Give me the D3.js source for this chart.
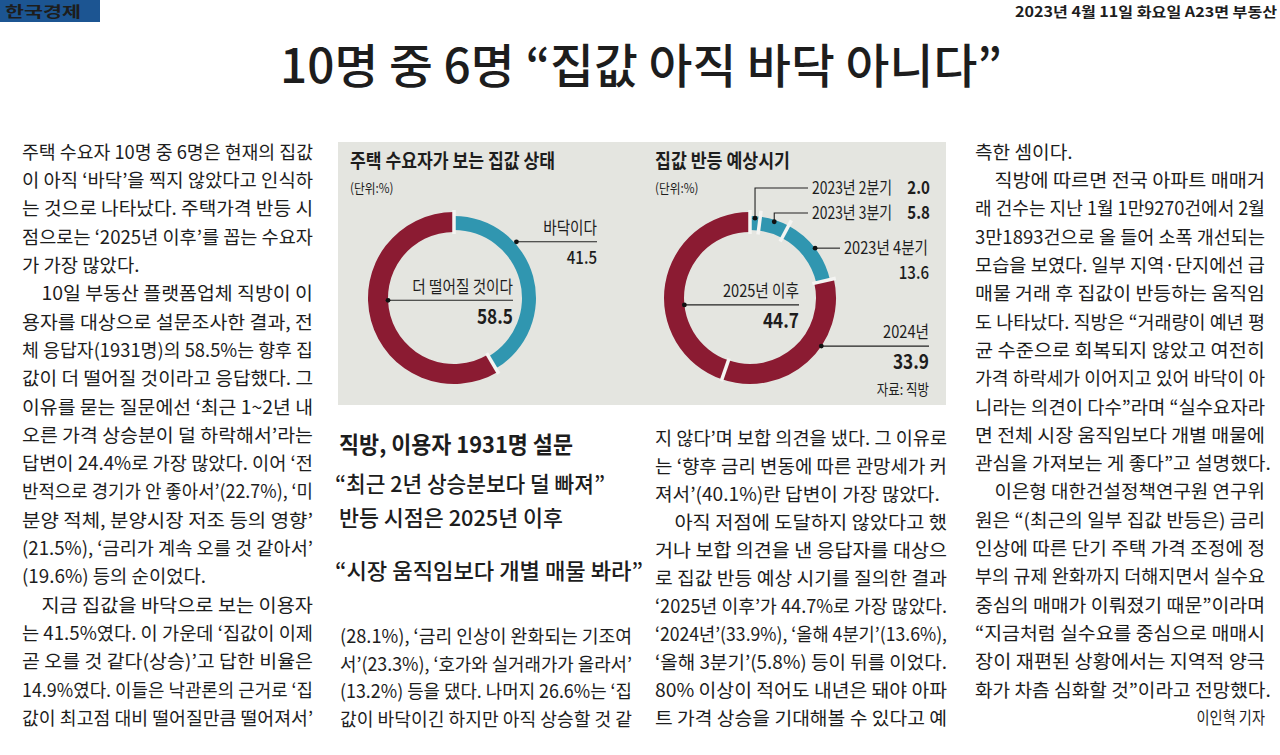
<!DOCTYPE html>
<html>
<head>
<meta charset="utf-8">
<script src="https://cdn.jsdelivr.net/npm/d3@7"></script>
<style>
  body { margin: 0; background: #fff; }
  svg { display: block; }
  text { font-family: "Noto Sans CJK KR", "Noto Sans", sans-serif; fill: #1d1d1d; }
</style>
</head>
<body>
<svg id="page"></svg>
<script>
// ---- chart data ----
var stateLabels = ["바닥이다", "더 떨어질 것이다"];
var stateValues = [41.5, 58.5];

var timingLabels = ["2023년 2분기", "2023년 3분기", "2023년 4분기", "2024년", "2025년 이후"];
var timingValues = [2.0, 5.8, 13.6, 33.9, 44.7];

// ---- page text ----
var masthead = "한국경제";
var dateline = "2023년 4월 11일 화요일 A23면 부동산";
var headline = "10명 중 6명 “집값 아직 바닥 아니다”";
var chartTitles = ["주택 수요자가 보는 집값 상태", "집값 반등 예상시기"];
var unitNote = "(단위:%)";
var sourceNote = "자료: 직방";
var subheads = ["직방, 이용자 1931명 설문", "“최근 2년 상승분보다 덜 빠져”", "반등 시점은 2025년 이후", "“시장 움직임보다 개별 매물 봐라”"];
var byline = "이인혁 기자";

// ">" = indented first line, "|" = last line of a paragraph
var leftColumn = [
  "주택 수요자 10명 중 6명은 현재의 집값",
  "이 아직 ‘바닥’을 찍지 않았다고 인식하",
  "는 것으로 나타났다. 주택가격 반등 시",
  "점으로는 ‘2025년 이후’를 꼽는 수요자",
  "가 가장 많았다.|",
  ">10일 부동산 플랫폼업체 직방이 이",
  "용자를 대상으로 설문조사한 결과, 전",
  "체 응답자(1931명)의 58.5%는 향후 집",
  "값이 더 떨어질 것이라고 응답했다. 그",
  "이유를 묻는 질문에선 ‘최근 1~2년 내",
  "오른 가격 상승분이 덜 하락해서’라는",
  "답변이 24.4%로 가장 많았다. 이어 ‘전",
  "반적으로 경기가 안 좋아서’(22.7%), ‘미",
  "분양 적체, 분양시장 저조 등의 영향’",
  "(21.5%), ‘금리가 계속 오를 것 같아서’",
  "(19.6%) 등의 순이었다.|",
  ">지금 집값을 바닥으로 보는 이용자",
  "는 41.5%였다. 이 가운데 ‘집값이 이제",
  "곧 오를 것 같다(상승)’고 답한 비율은",
  "14.9%였다. 이들은 낙관론의 근거로 ‘집",
  "값이 최고점 대비 떨어질만큼 떨어져서’"
];

var midLeftColumn = [
  "(28.1%), ‘금리 인상이 완화되는 기조여",
  "서’(23.3%), ‘호가와 실거래가가 올라서’",
  "(13.2%) 등을 댔다. 나머지 26.6%는 ‘집",
  "값이 바닥이긴 하지만 아직 상승할 것 같"
];

var midRightColumn = [
  "지 않다’며 보합 의견을 냈다. 그 이유로",
  "는 ‘향후 금리 변동에 따른 관망세가 커",
  "져서’(40.1%)란 답변이 가장 많았다.|",
  ">아직 저점에 도달하지 않았다고 했",
  "거나 보합 의견을 낸 응답자를 대상으",
  "로 집값 반등 예상 시기를 질의한 결과",
  "‘2025년 이후’가 44.7%로 가장 많았다.",
  "‘2024년’(33.9%), ‘올해 4분기’(13.6%),",
  "‘올해 3분기’(5.8%) 등이 뒤를 이었다.",
  "80% 이상이 적어도 내년은 돼야 아파",
  "트 가격 상승을 기대해볼 수 있다고 예"
];

var rightColumn = [
  "측한 셈이다.|",
  ">직방에 따르면 전국 아파트 매매거",
  "래 건수는 지난 1월 1만9270건에서 2월",
  "3만1893건으로 올 들어 소폭 개선되는",
  "모습을 보였다. 일부 지역·단지에선 급",
  "매물 거래 후 집값이 반등하는 움직임",
  "도 나타났다. 직방은 “거래량이 예년 평",
  "균 수준으로 회복되지 않았고 여전히",
  "가격 하락세가 이어지고 있어 바닥이 아",
  "니라는 의견이 다수”라며 “실수요자라",
  "면 전체 시장 움직임보다 개별 매물에",
  "관심을 가져보는 게 좋다”고 설명했다.|",
  ">이은형 대한건설정책연구원 연구위",
  "원은 “(최근의 일부 집값 반등은) 금리",
  "인상에 따른 단기 주택 가격 조정에 정",
  "부의 규제 완화까지 더해지면서 실수요",
  "중심의 매매가 이뤄졌기 때문”이라며",
  "“지금처럼 실수요를 중심으로 매매시",
  "장이 재편된 상황에서는 지역적 양극",
  "화가 차츰 심화할 것”이라고 전망했다.|"
];

// ---- layout ----
var W = 1280, H = 755;
var maroon = "#8b1b32", teal = "#3096b0", panelFill = "#e4e5e0";

var svg = d3.select("#page").attr("width", W).attr("height", H);
svg.append("rect").attr("width", W).attr("height", H).attr("fill", "#fff");

// shrink a text horizontally (newspaper fonts are condensed)
function squeeze(sel, s) {
  sel.each(function() {
    var w = this.getComputedTextLength();
    d3.select(this).attr("textLength", w * s).attr("lengthAdjust", "spacingAndGlyphs");
  });
  return sel;
}
function fitWidth(sel, w) {
  return sel.attr("textLength", w).attr("lengthAdjust", "spacingAndGlyphs");
}
// place text by its vertical centre
function label(g, str, x, cy, fs, weight, anchor) {
  return g.append("text")
    .attr("x", x)
    .attr("y", cy + fs * 0.37)
    .attr("font-size", fs)
    .attr("font-weight", weight || 400)
    .attr("text-anchor", anchor || "start")
    .text(str);
}

// justified body column
function column(lines, x0, x1, y0, pitch, fs) {
  var g = svg.append("g");
  var rows = lines.map(function(raw, i) {
    var indent = raw.charAt(0) === ">";
    var last = raw.charAt(raw.length - 1) === "|";
    var str = raw.replace(/^>/, "").replace(/\|$/, "");
    var x = indent ? x0 + fs * 1.05 : x0;
    var el = label(g, str, x, y0 + i * pitch, fs, 400);
    return { el: el, x: x, last: last };
  });
  var ratios = [];
  rows.forEach(function(d) {
    if (!d.last) {
      var w = d.el.node().getComputedTextLength();
      ratios.push((x1 - d.x) / w);
      fitWidth(d.el, x1 - d.x);
    }
  });
  var r = d3.median(ratios);
  rows.forEach(function(d) { if (d.last) squeeze(d.el, r); });
  return g;
}

// ---- masthead ----
svg.append("rect").attr("x", 0).attr("y", 0).attr("width", 100).attr("height", 22).attr("fill", "#1c5592");
fitWidth(label(svg, masthead, 5, 12, 14.5, 700).attr("fill", "#fff"), 76);
fitWidth(label(svg, dateline, 1277, 11.5, 14, 700, "end"), 262);
fitWidth(label(svg, headline, 641, 66, 47, 500, "middle").attr("fill", "#111"), 722);

// ---- body columns ----
column(leftColumn, 22, 313, 152, 28.3, 18.5);
column(rightColumn, 975, 1265, 152, 28.3, 18.5);
column(midRightColumn, 655, 947, 438, 28, 18.5);
column(midLeftColumn, 340, 632, 636, 27.7, 18.5);
squeeze(label(svg, byline, 1265, 718, 16.5, 400, "end"), 0.86);

// subheads under the graphic
fitWidth(label(svg, subheads[0], 339, 444, 23, 700), 234);
fitWidth(label(svg, subheads[1], 335, 484, 22, 500), 270);
fitWidth(label(svg, subheads[2], 339, 518, 22, 500), 224);
fitWidth(label(svg, subheads[3], 335, 571, 22, 500), 308);

// ---- graphic panel ----
var panel = svg.append("g");
panel.append("rect").attr("x", 338).attr("y", 142).attr("width", 608).attr("height", 263).attr("fill", panelFill);

fitWidth(label(panel, chartTitles[0], 350, 161, 19, 700), 205);
fitWidth(label(panel, chartTitles[1], 655, 161, 19, 700), 135);
squeeze(label(panel, unitNote, 350, 188, 13, 400), 0.9);
squeeze(label(panel, unitNote, 655, 188, 13, 400), 0.9);
squeeze(label(panel, sourceNote, 929, 390, 14.5, 400, "end"), 0.86);

var R = 86, cy = 298;
function ringRadii(col) {
  return col === teal ? [R - 18, R - 4] : [R - 20, R];
}

var pie = d3.pie().sort(null).value(function(d) { return d; });
var deg = Math.PI / 180;

function donut(values, labels, colors, cx, notes) {
  var color = d3.scaleOrdinal().domain(labels).range(colors);
  var arcs = pie(values);
  var g = panel.append("g").attr("transform", "translate(" + cx + "," + cy + ")");

  g.selectAll("path.seg")
    .data(arcs)
    .enter().append("path")
    .attr("class", "seg")
    .attr("fill", function(d, i) { return color(labels[i]); })
    .attr("d", function(d, i) {
      var rr = ringRadii(color(labels[i]));
      return d3.arc().innerRadius(rr[0]).outerRadius(rr[1])(d);
    });

  // white separators between segments
  g.selectAll("line.sep")
    .data(arcs)
    .enter().append("line")
    .attr("class", "sep")
    .attr("x1", function(d) { return Math.sin(d.startAngle) * (R - 22); })
    .attr("y1", function(d) { return -Math.cos(d.startAngle) * (R - 22); })
    .attr("x2", function(d) { return Math.sin(d.startAngle) * (R + 2); })
    .attr("y2", function(d) { return -Math.cos(d.startAngle) * (R + 2); })
    .attr("stroke", "#f4f4f2")
    .attr("stroke-width", 3.5);

  // leader lines and labels
  notes.forEach(function(n, i) {
    var a = n.angle != null ? n.angle * deg : (arcs[i].startAngle + arcs[i].endAngle) / 2;
    var px = cx + Math.sin(a) * n.r, py = cy - Math.cos(a) * n.r;
    var ly = n.elbowY != null ? n.elbowY : py;
    var pts = [[px, py]];
    if (n.elbowY != null) pts.push([px, ly]);
    pts.push([n.lineTo, ly]);
    panel.append("path")
      .attr("d", d3.line()(pts))
      .attr("fill", "none")
      .attr("stroke", "#222")
      .attr("stroke-width", 1.1);
    panel.append("circle").attr("cx", px).attr("cy", py).attr("r", 2.4).attr("fill", "#111");

    var val = d3.format(".1f")(values[i]);
    if (n.mode === "stack") {
      squeeze(label(panel, labels[i], n.lineTo, ly - 14, 17, 400, "end"), 0.86);
      squeeze(label(panel, val, n.lineTo, ly + 16, n.big ? 20 : 17.5, n.big ? 700 : 500, "end"), 0.86);
    } else if (n.mode === "inline") {
      fitWidth(label(panel, labels[i], n.lineTo + 4, ly, 17, 400), n.labelW);
      squeeze(label(panel, val, 930, ly, 17.5, 700, "end"), 0.86);
    } else {
      fitWidth(label(panel, labels[i], n.lineTo + 4, ly, 17, 400), n.labelW);
      squeeze(label(panel, val, 929, ly + 24, 17.5, 500, "end"), 0.86);
    }
  });
}

donut(stateValues, stateLabels, [teal, maroon], 454, [
  { angle: 48, r: R - 2, lineTo: 597, mode: "stack" },
  { angle: 268, r: R - 20, lineTo: 513, mode: "stack", big: true }
]);

donut(timingValues, timingLabels, [teal, teal, teal, maroon, maroon], 750, [
  { r: R - 6, elbowY: 188, lineTo: 808, mode: "inline", labelW: 80 },
  { r: R - 6, elbowY: 213, lineTo: 808, mode: "inline", labelW: 80 },
  { r: R - 4, lineTo: 840, mode: "below", labelW: 84 },
  { angle: 124, r: R, lineTo: 929, mode: "stack", big: true },
  { angle: 264, r: R - 20, lineTo: 799, mode: "stack", big: true }
]);
</script>
</body>
</html>
